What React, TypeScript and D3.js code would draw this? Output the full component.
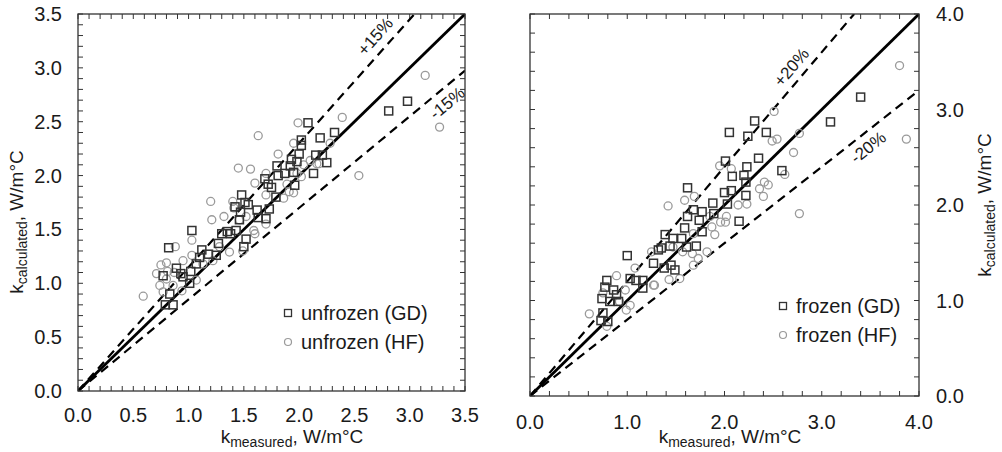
import React from "react";
import * as d3 from "d3";

// ---- Data ----
const unfrozenGD: [number, number][] = [
  [2.08, 2.49], [2.02, 2.33], [2.02, 2.28], [2.19, 2.35], [2.32, 2.4], [2.21, 2.19],
  [2.15, 2.19], [2.25, 2.12], [2.13, 2.02], [2.0, 2.2], [1.98, 2.13], [1.93, 2.15],
  [1.92, 2.09], [1.95, 2.03], [1.96, 1.91], [1.87, 2.02], [1.8, 2.09], [1.81, 2.0],
  [1.79, 1.8], [1.75, 1.89], [1.72, 1.92], [1.69, 1.97], [1.73, 1.69], [1.7, 1.6],
  [1.63, 1.61], [1.62, 1.68], [1.54, 1.73], [1.48, 1.82], [1.51, 1.75], [1.47, 1.66],
  [1.46, 1.59], [1.42, 1.71], [1.43, 1.49], [1.38, 1.46], [1.35, 1.48], [1.52, 1.41],
  [1.5, 1.34], [1.3, 1.46], [1.27, 1.37], [1.25, 1.26], [1.18, 1.27], [1.12, 1.31],
  [1.1, 1.24], [1.07, 1.18], [1.03, 1.49], [1.02, 1.11], [1.01, 1.0], [0.93, 1.09],
  [0.89, 1.14], [0.82, 1.33], [0.77, 1.07], [0.83, 0.9], [0.86, 0.8], [0.79, 0.8],
  [2.81, 2.6], [2.98, 2.69], [0.95, 1.06],
];
const unfrozenHF: [number, number][] = [
  [3.14, 2.93], [3.27, 2.45], [2.54, 2.0], [2.39, 2.54], [1.99, 2.49], [1.63, 2.37],
  [1.95, 2.3], [2.28, 2.3], [1.81, 2.2], [2.18, 2.11], [2.04, 2.1], [2.02, 1.99],
  [1.89, 1.92], [1.86, 1.79], [1.91, 1.85], [1.7, 2.02], [1.7, 1.82], [1.6, 1.93],
  [1.56, 2.06], [1.45, 2.07], [1.2, 1.76], [1.21, 1.59], [1.32, 1.62], [1.4, 1.76],
  [1.46, 1.59], [1.52, 1.62], [1.7, 1.55], [1.6, 1.46], [1.37, 1.29], [1.49, 1.3],
  [1.03, 1.4], [1.03, 1.26], [0.95, 1.21], [0.88, 1.34], [0.75, 1.17], [0.71, 1.09],
  [0.74, 0.98], [0.77, 0.92], [0.59, 0.88], [0.8, 1.04], [0.86, 0.98], [0.94, 0.93],
  [1.07, 1.03], [1.13, 1.18], [1.22, 1.21], [1.28, 1.34], [1.41, 1.7], [2.1, 2.14],
  [2.16, 2.11], [1.95, 1.84], [1.98, 2.02], [0.81, 1.11], [0.87, 1.1], [1.59, 1.49],
  [0.8, 1.19],
];
const frozenGD: [number, number][] = [
  [3.4, 3.13], [3.09, 2.87], [2.31, 2.88], [2.05, 2.76], [2.24, 2.72], [2.43, 2.76],
  [2.23, 2.4], [2.35, 2.49], [2.01, 2.46], [2.08, 2.3], [2.2, 2.31], [2.22, 2.24],
  [2.59, 2.36], [1.62, 2.18], [2.07, 2.15], [2.0, 2.13], [2.22, 2.1], [2.15, 1.83],
  [2.03, 2.01], [1.88, 2.02], [1.89, 1.91], [1.77, 1.93], [1.68, 1.95], [1.62, 1.88],
  [1.74, 1.84], [1.59, 1.76], [1.77, 1.72], [1.39, 1.69], [1.47, 1.65], [1.56, 1.65],
  [1.61, 1.56], [1.71, 1.57], [1.35, 1.55], [1.44, 1.57], [1.0, 1.47], [1.27, 1.39],
  [1.38, 1.34], [1.45, 1.37], [1.49, 1.32], [1.03, 1.23], [1.09, 1.21], [1.16, 1.21],
  [1.16, 1.13], [0.79, 1.21], [0.77, 1.14], [0.74, 1.02], [0.86, 1.11], [0.89, 1.06],
  [0.82, 0.99], [0.75, 0.87], [0.73, 0.79], [0.8, 0.78], [0.91, 0.99], [1.32, 1.53],
];
const frozenHF: [number, number][] = [
  [3.8, 3.46], [3.87, 2.69], [2.51, 2.98], [2.49, 2.67], [2.54, 2.69], [2.77, 2.75],
  [2.71, 2.55], [2.62, 2.32], [1.95, 2.41], [2.07, 2.38], [2.41, 2.24], [2.45, 2.21],
  [2.36, 2.17], [2.4, 2.09], [2.77, 1.91], [2.23, 2.01], [2.14, 2.0], [2.02, 1.88],
  [1.96, 1.82], [2.01, 1.82], [1.9, 1.69], [1.87, 1.77], [1.59, 2.05], [1.69, 2.09],
  [1.42, 1.99], [1.25, 1.51], [1.28, 1.16], [1.43, 1.22], [1.54, 1.23], [1.57, 1.51],
  [1.67, 1.49], [1.82, 1.51], [1.73, 1.44], [1.68, 1.37], [1.68, 1.7], [1.08, 1.34],
  [0.89, 1.26], [0.61, 0.86], [0.98, 1.11], [1.03, 0.95], [0.99, 0.9], [0.92, 0.99],
  [0.79, 0.73], [0.75, 1.08], [1.27, 1.16], [1.47, 1.56], [1.85, 1.88],
];

const leftLegend = ["unfrozen (GD)", "unfrozen (HF)"];
const rightLegend = ["frozen (GD)", "frozen (HF)"];
const leftBand = 0.15;
const rightBand = 0.2;
const leftMax = 3.5;
const rightMax = 4.0;

const FONT = "'Liberation Sans', Arial, Helvetica, sans-serif";
const TEXT = "#1a1a1a";
const SQ = "#333";
const CI = "#9a9a9a";

type PanelProps = {
  x0: number; x1: number; y0: number; y1: number;
  max: number; minorStep: number; majorStep: number;
  gd: [number, number][]; hf: [number, number][];
  legend: string[]; legendPos: [number, number];
  band: number;
  plusLabelPos: [number, number]; minusLabelPos: [number, number];
  yAxisRight: boolean; xLabelY: number;
  xTitleX: number; yTitleX: number; yTitleY: number;
};

function Panel(p: PanelProps) {
  const x = d3.scaleLinear().domain([0, p.max]).range([p.x0, p.x1]);
  const y = d3.scaleLinear().domain([0, p.max]).range([p.y1, p.y0]);
  const minor = d3.range(0, p.max + 1e-9, p.minorStep);
  const major = d3.range(0, p.max + 1e-9, p.majorStep);
  const fmt = d3.format(".1f");
  const tl = 5;
  const upEndX = p.max / (1 + p.band);
  const line = d3.line<[number, number]>().x(d => x(d[0])).y(d => y(d[1]));
  const angle = (k: number) =>
    (-Math.atan((k * (p.y1 - p.y0)) / (p.x1 - p.x0)) * 180) / Math.PI;
  return (
    <g>
      <defs>
        <clipPath id={`clip${p.x0}`}>
          <rect x={p.x0} y={p.y0} width={p.x1 - p.x0} height={p.y1 - p.y0} />
        </clipPath>
      </defs>
      {/* ticks */}
      {minor.map((v, i) => (
        <g key={`t${i}`} stroke={SQ} strokeWidth={1}>
          <line x1={x(v)} x2={x(v)} y1={p.y1} y2={p.y1 - tl} />
          <line x1={x(v)} x2={x(v)} y1={p.y0} y2={p.y0 + tl} />
          <line x1={p.x0} x2={p.x0 + tl} y1={y(v)} y2={y(v)} />
          <line x1={p.x1} x2={p.x1 - tl} y1={y(v)} y2={y(v)} />
        </g>
      ))}
      {/* reference lines */}
      <g clipPath={`url(#clip${p.x0})`} fill="none">
        <path d={line([[0, 0], [p.max, p.max]]) || ""} stroke="#000" strokeWidth={2.8} />
        <path d={line([[0, 0], [upEndX, p.max]]) || ""} stroke="#000" strokeWidth={2.2} strokeDasharray="9,6" />
        <path d={line([[0, 0], [p.max, p.max * (1 - p.band)]]) || ""} stroke="#000" strokeWidth={2.2} strokeDasharray="9,6" />
      </g>
      {/* points */}
      {p.hf.map((d, i) => (
        <circle key={`c${i}`} cx={x(d[0])} cy={y(d[1])} r={4} fill="none" stroke={CI} strokeWidth={1.3} />
      ))}
      {p.gd.map((d, i) => (
        <rect key={`s${i}`} x={x(d[0]) - 4} y={y(d[1]) - 4} width={8} height={8} fill="none" stroke={SQ} strokeWidth={1.5} />
      ))}
      {/* frame */}
      <rect x={p.x0} y={p.y0} width={p.x1 - p.x0} height={p.y1 - p.y0} fill="none" stroke={SQ} strokeWidth={1.3} />
      {/* band labels */}
      <text
        x={x(p.plusLabelPos[0])} y={y(p.plusLabelPos[1])}
        transform={`rotate(${angle(1 + p.band)},${x(p.plusLabelPos[0])},${y(p.plusLabelPos[1])})`}
        textAnchor="middle" dominantBaseline="central" fontSize={17} fill={TEXT}
      >{`+${Math.round(p.band * 100)}%`}</text>
      <text
        x={x(p.minusLabelPos[0])} y={y(p.minusLabelPos[1])}
        transform={`rotate(${angle(1 - p.band)},${x(p.minusLabelPos[0])},${y(p.minusLabelPos[1])})`}
        textAnchor="middle" dominantBaseline="central" fontSize={17} fill={TEXT}
      >{`-${Math.round(p.band * 100)}%`}</text>
      {/* tick labels */}
      {major.map((v, i) => (
        <text key={`xl${i}`} x={x(v)} y={p.xLabelY} textAnchor="middle" fontSize={20} fill={TEXT}>{fmt(v)}</text>
      ))}
      {major.map((v, i) => (
        <text key={`yl${i}`} x={p.yAxisRight ? p.x1 + 17 : p.x0 - 16} y={y(v)} dy="0.35em"
          textAnchor={p.yAxisRight ? "start" : "end"} fontSize={20} fill={TEXT}>{fmt(v)}</text>
      ))}
      {/* axis titles */}
      <text x={p.xTitleX} y={443} textAnchor="middle" fontSize={19} fill={TEXT}>
        <tspan>k</tspan>
        <tspan fontSize={14} dy={4}>measured</tspan>
        <tspan dy={-4}>, W/m°C</tspan>
      </text>
      <text x={p.yTitleX} y={p.yTitleY} textAnchor="middle" fontSize={19} fill={TEXT}
        transform={`rotate(-90,${p.yTitleX},${p.yTitleY})`} dy="0.35em">
        <tspan>k</tspan>
        <tspan fontSize={14} dy={4}>calculated</tspan>
        <tspan dy={-4}>, W/m°C</tspan>
      </text>
      {/* legend */}
      <rect x={p.legendPos[0] - 3.5} y={p.legendPos[1] - 3.5} width={7} height={7} fill="none" stroke={SQ} strokeWidth={1.3} />
      <text x={p.legendPos[0] + 13} y={p.legendPos[1]} dy="0.35em" fontSize={20} fill={TEXT}>{p.legend[0]}</text>
      <circle cx={p.legendPos[0]} cy={p.legendPos[1] + 29} r={3.5} fill="none" stroke={CI} strokeWidth={1.2} />
      <text x={p.legendPos[0] + 13} y={p.legendPos[1] + 29} dy="0.35em" fontSize={20} fill={TEXT}>{p.legend[1]}</text>
    </g>
  );
}

export default function App() {
  return (
    <svg width={1002} height={452} style={{ position: "absolute", left: 0, top: 0, background: "#fff" }}
      fontFamily={FONT}>
      <rect width={1002} height={452} fill="#fff" />
      <Panel
        x0={78} x1={465} y0={14} y1={391} max={leftMax} minorStep={0.1} majorStep={0.5}
        gd={unfrozenGD} hf={unfrozenHF} legend={leftLegend} legendPos={[288, 313]}
        band={leftBand} plusLabelPos={[2.69, 3.29]} minusLabelPos={[3.34, 2.67]}
        yAxisRight={false} xLabelY={422} xTitleX={292} yTitleX={16} yTitleY={222}
      />
      <Panel
        x0={530} x1={919} y0={14} y1={396} max={rightMax} minorStep={0.2} majorStep={1.0}
        gd={frozenGD} hf={frozenHF} legend={rightLegend} legendPos={[783, 306]}
        band={rightBand} plusLabelPos={[2.69, 3.44]} minusLabelPos={[3.48, 2.6]}
        yAxisRight={true} xLabelY={429} xTitleX={730} yTitleX={984} yTitleY={205}
      />
    </svg>
  );
}
